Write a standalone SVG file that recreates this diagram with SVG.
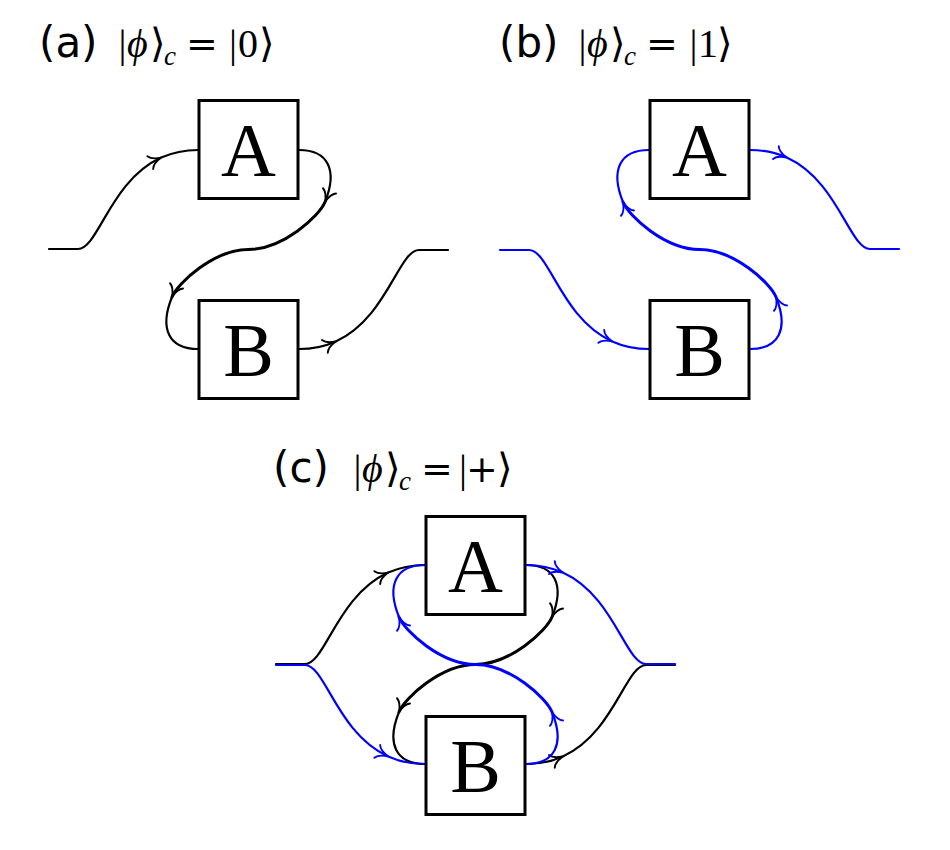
<svg xmlns="http://www.w3.org/2000/svg" width="950" height="850" viewBox="0 0 950 850">
<style>
 .lbl{font-family:"DejaVu Sans",sans-serif;font-size:42px;fill:#000}
 .m{font-family:"Liberation Serif","DejaVu Serif",serif;font-size:40px;fill:#000}
 .mi{font-style:italic}
 .op{font-family:"DejaVu Serif",serif;font-size:38px}
 .sub{font-size:27px;font-style:italic}
 .box rect{fill:#fff;stroke:#000;stroke-width:3}
 .box text{font-family:"Liberation Serif","Times New Roman",serif;font-size:76px;text-anchor:middle;fill:#000}
</style>
<defs>
 <path id="arw" d="M-12,-7 C-10.3,-3.5 -4.8,-1 0,0 C-4.8,1 -10.3,3.5 -12,7" fill="none" stroke-width="1.9" stroke-linecap="round"/>
 <g id="flow" fill="none" stroke-linecap="round">
  <path stroke-width="2.2" d="M49,249 L78,249 C98.3,249 110.1,180.8 161.2,157.6 C171.7,152.9 183.8,150 198,150"/>
  <path stroke-width="2.2" d="M299,150 C328,150 338,170 325,202"/>
  <path stroke-width="3" d="M325,202 C319.4,215.9 283,249.5 248.5,249.5 C214,249.5 177.6,283.1 172,297"/>
  <path stroke-width="2.2" d="M172,297 C159,329 169,349 198,349"/>
  <path stroke-width="2.2" d="M299,349 C313.2,349 325.3,346.1 335.8,341.4 C386.9,318.2 398.7,250 419,250 L448,250"/>
  <use href="#arw" transform="translate(161.2,157.6) rotate(-24.4)"/>
  <use href="#arw" transform="translate(325,202) rotate(112.1)"/>
  <use href="#arw" transform="translate(172,297) rotate(112.1)"/>
  <use href="#arw" transform="translate(335.8,341.4) rotate(-24.4)"/>
 </g>
</defs>

<g id="connectors">
 <use href="#flow" stroke="#000"/>
 <use href="#flow" stroke="#0000ff" transform="translate(451,499) scale(1,-1)"/>
 <use href="#flow" stroke="#000" transform="translate(227,415)"/>
 <use href="#flow" stroke="#0000ff" transform="translate(227,914) scale(1,-1)"/>
</g>

<g id="a-A" class="box"><rect x="199" y="100.5" width="99" height="98"/><text x="248.5" y="175.5">A</text></g>
<g id="a-B" class="box"><rect x="199" y="300.5" width="99" height="98"/><text x="248.5" y="375.5">B</text></g>
<g id="b-A" class="box"><rect x="650" y="100.5" width="99" height="98"/><text x="699.5" y="175.5">A</text></g>
<g id="b-B" class="box"><rect x="650" y="300.5" width="99" height="98"/><text x="699.5" y="375.5">B</text></g>
<g id="c-A" class="box"><rect x="426" y="516.5" width="99" height="98"/><text x="475.5" y="591.5">A</text></g>
<g id="c-B" class="box"><rect x="426" y="716.5" width="99" height="98"/><text x="475.5" y="791.5">B</text></g>

<g id="titles">
 <text class="lbl" x="39" y="57">(a)</text>
 <text class="m" y="57"><tspan x="118.5">|</tspan><tspan x="127" class="mi">ϕ</tspan><tspan x="150">⟩</tspan><tspan x="164" y="65" class="sub">c</tspan><tspan x="186" y="57" class="op">=</tspan><tspan x="229">|</tspan><tspan x="238">0</tspan><tspan x="259">⟩</tspan></text>
 <text class="lbl" x="499" y="57">(b)</text>
 <text class="m" y="57"><tspan x="578.5">|</tspan><tspan x="587" class="mi">ϕ</tspan><tspan x="610">⟩</tspan><tspan x="624" y="65" class="sub">c</tspan><tspan x="646" y="57" class="op">=</tspan><tspan x="689.5">|</tspan><tspan x="698">1</tspan><tspan x="717">⟩</tspan></text>
 <text class="lbl" x="273" y="482">(c)</text>
 <text class="m" y="482"><tspan x="353.5">|</tspan><tspan x="362" class="mi">ϕ</tspan><tspan x="385">⟩</tspan><tspan x="399" y="490" class="sub">c</tspan><tspan x="421" y="482" class="op">=</tspan><tspan x="459">|</tspan><tspan x="466" class="op">+</tspan><tspan x="497">⟩</tspan></text>
</g>
</svg>
